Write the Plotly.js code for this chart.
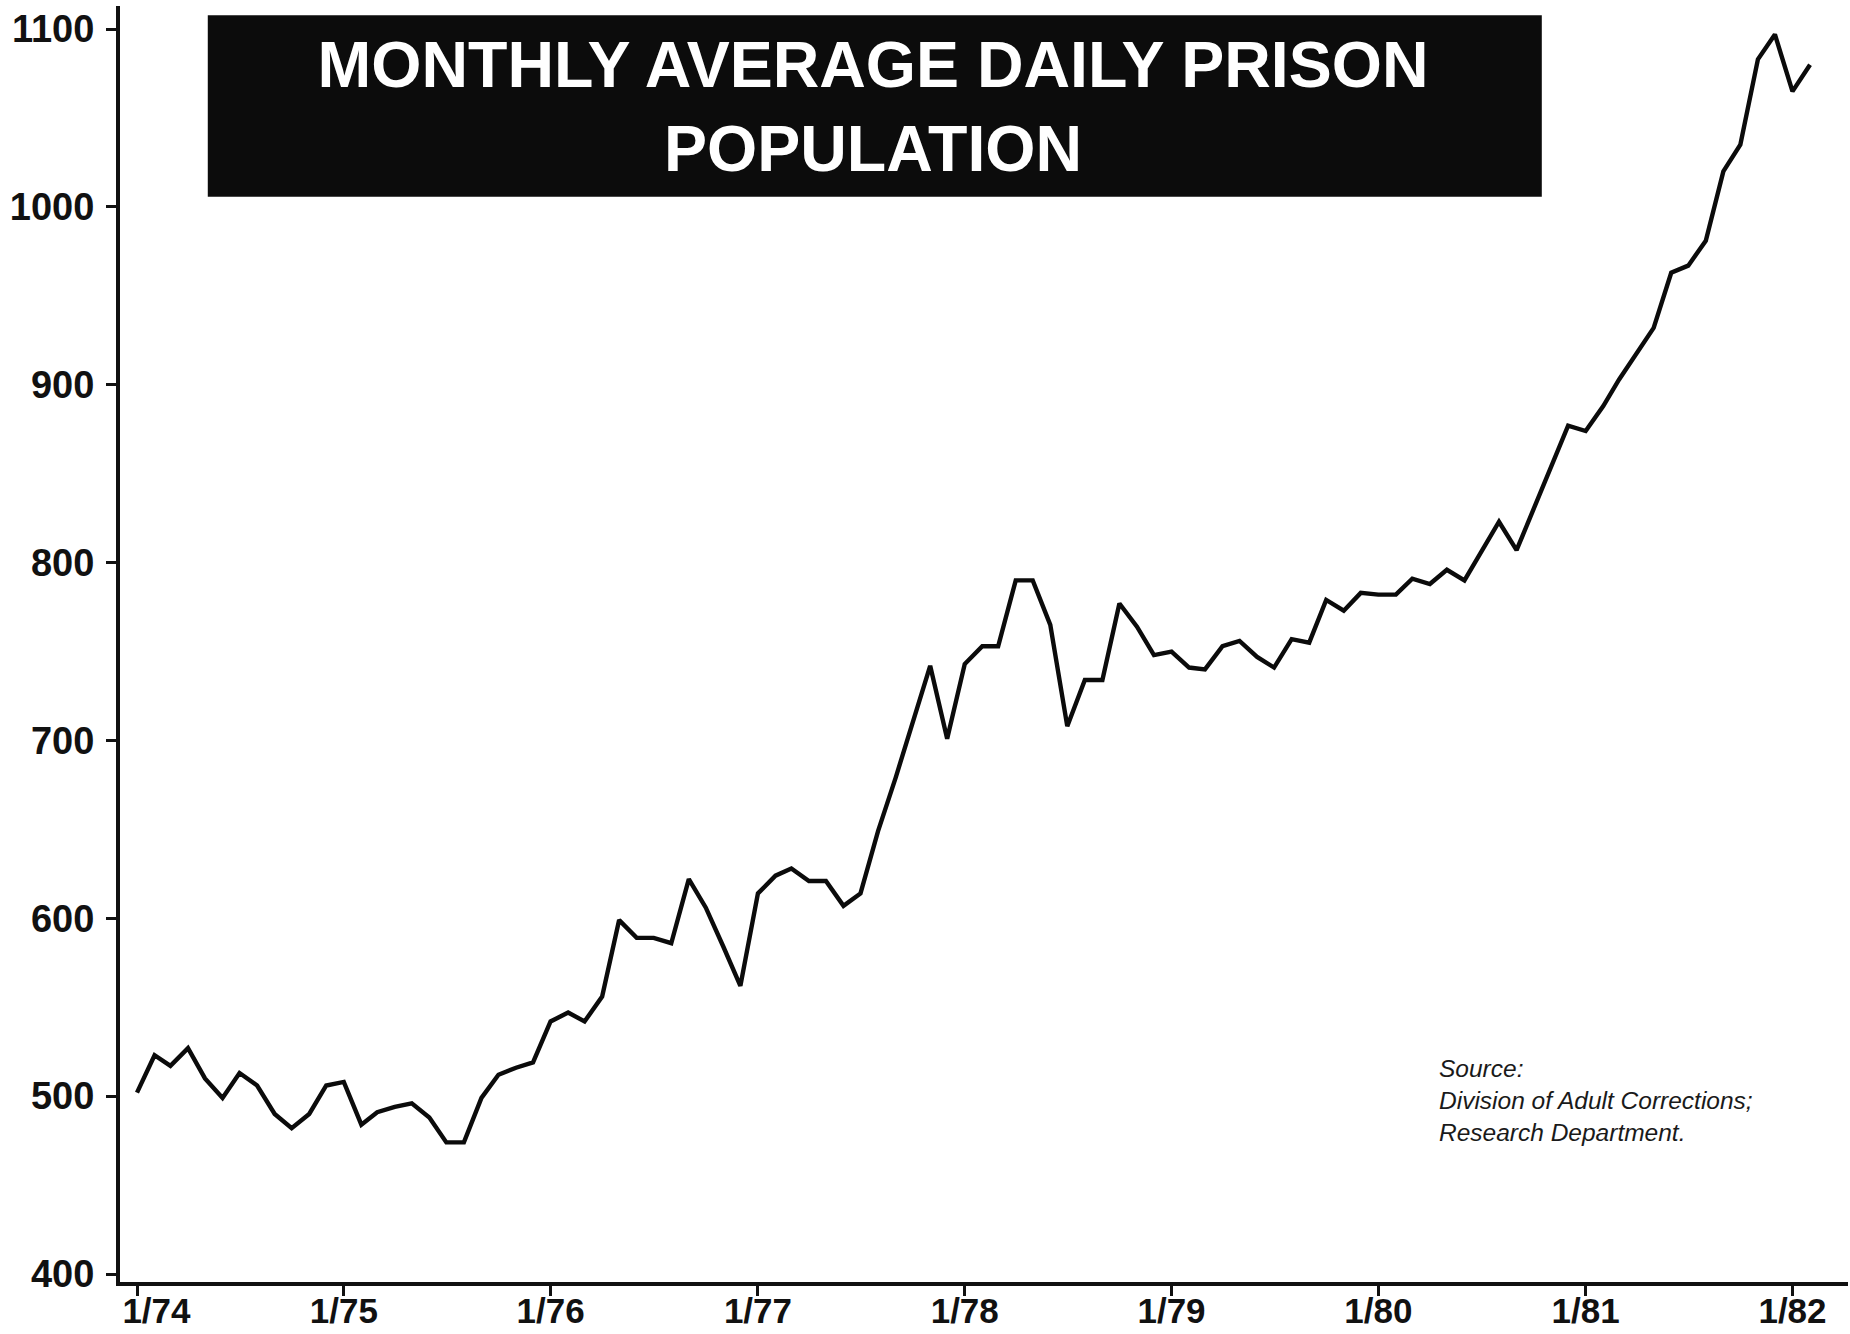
<!DOCTYPE html>
<html>
<head>
<meta charset="utf-8">
<script src="https://cdn.plot.ly/plotly-3.0.1.min.js"></script>
<style>
  html, body { margin: 0; padding: 0; background: #ffffff; }
  #chart { width: 1850px; height: 1334px; }
</style>
</head>
<body>
<div id="chart"></div>
<script>
// ---- Data ----
const firstMonth = { year: 1974, month: 1 };   // series starts January 1974, monthly
const population = [
  502, 523, 517, 527, 510, 499, 513, 506, 490, 482, 490, 506,   // 1974
  508, 484, 491, 494, 496, 488, 474, 474, 499, 512, 516, 519,   // 1975
  542, 547, 542, 556, 599, 589, 589, 586, 622, 606, 584, 562,   // 1976
  614, 624, 628, 621, 621, 607, 614, 649, 679, 710, 742, 701,   // 1977
  743, 753, 753, 790, 790, 765, 708, 734, 734, 777, 764, 748,   // 1978
  750, 741, 740, 753, 756, 747, 741, 757, 755, 779, 773, 783,   // 1979
  782, 782, 791, 788, 796, 790, 806, 823, 807, 830, 854, 877,   // 1980
  874, 888, 903, 918, 932, 963, 967, 981, 1020, 1035, 1083, 1097, // 1981
  1065, 1080                                                     // 1982
];
const xTickDates  = ['1974-01-01','1975-01-01','1976-01-01','1977-01-01','1978-01-01',
                     '1979-01-01','1980-01-01','1981-01-01','1982-01-01'];
const xTickLabels = ['\u00a0\u00a0\u00a0\u00a01/74','1/75','1/76','1/77','1/78','1/79','1/80','1/81','1/82'];
const yTickValues = [400, 500, 600, 700, 800, 900, 1000, 1100];
const yTickLabels = ['400','500','600','700','800','900','1000','1100'];
const titleLines  = ['MONTHLY AVERAGE DAILY PRISON', 'POPULATION'];
const sourceLines = ['Source:', 'Division of Adult Corrections;', 'Research Department.'];

// month dates for the series
const months = population.map((_, i) => {
  const m0 = firstMonth.month - 1 + i;
  const y = firstMonth.year + Math.floor(m0 / 12);
  const m = (m0 % 12) + 1;
  return y + '-' + String(m).padStart(2, '0') + '-01';
});

const FONT = 'Liberation Sans, Arial, Helvetica, sans-serif';

const trace = {
  type: 'scatter',
  mode: 'lines',
  x: months,
  y: population,
  line: { color: '#0b0b0b', width: 4.4, shape: 'linear' },
  hoverinfo: 'skip'
};

const layout = {
  width: 1850,
  height: 1334,
  paper_bgcolor: '#ffffff',
  plot_bgcolor: '#ffffff',
  showlegend: false,
  margin: { l: 120, r: 2, t: 6, b: 52, pad: 0 },
  title: {
    text: titleLines.join('<br>'),
    font: { family: FONT, size: 64.5, color: '#ffffff', weight: 'bold' },
    xref: 'paper', x: 0.4358, xanchor: 'center',
    yref: 'container', y: 0.935, yanchor: 'middle'
  },
  xaxis: {
    type: 'date',
    range: ['1973-12-02', '1982-04-09'],
    tickmode: 'array',
    tickvals: xTickDates,
    ticktext: xTickLabels,
    ticks: 'outside',
    ticklen: 10,
    tickwidth: 3,
    tickcolor: '#111111',
    showline: true,
    linecolor: '#111111',
    linewidth: 4,
    showgrid: false,
    zeroline: false,
    tickfont: { family: FONT, size: 35, color: '#111111', weight: 'bold' },
    ticklabelstandoff: -15
  },
  yaxis: {
    range: [395.5, 1113],
    tickmode: 'array',
    tickvals: yTickValues,
    ticktext: yTickLabels,
    ticks: 'outside',
    ticklen: 10,
    tickwidth: 3,
    tickcolor: '#111111',
    showline: true,
    linecolor: '#111111',
    linewidth: 4,
    showgrid: false,
    zeroline: false,
    tickfont: { family: FONT, size: 38, color: '#111111', weight: 'bold' },
    ticklabelstandoff: 4
  },
  shapes: [{
    type: 'rect',
    xref: 'paper', yref: 'paper',
    x0: 0.0508, x1: 0.8228, y0: 0.8505, y1: 0.9927,
    fillcolor: '#0c0c0c',
    line: { width: 0 },
    layer: 'above'
  }],
  annotations: [{
    xref: 'paper', yref: 'paper',
    x: 0.762, y: 0.1795,
    xanchor: 'left', yanchor: 'top', align: 'left',
    showarrow: false,
    text: sourceLines.join('<br>'),
    font: { family: FONT, size: 24.5, color: '#1a1a1a', style: 'italic' }
  }]
};

Plotly.newPlot('chart', [trace], layout, { staticPlot: true, displayModeBar: false });
</script>
</body>
</html>
